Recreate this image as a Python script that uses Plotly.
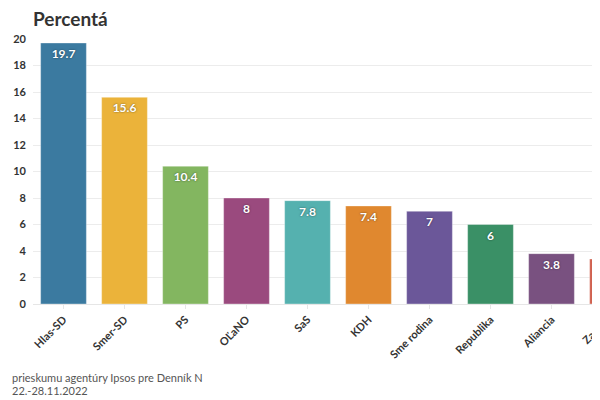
import plotly.graph_objects as go

parties = ["Hlas-SD", "Smer-SD", "PS", "OĽaNO", "SaS", "KDH", "Sme rodina", "Republika", "Aliancia", "Za ľudí"]
values = [19.7, 15.6, 10.4, 8, 7.8, 7.4, 7, 6, 3.8, 3.4]
colors = ["#3B7AA0", "#EBB33A", "#83B660", "#9A4A7E", "#55B1AF", "#E0882F", "#6B5799", "#3A9066", "#795180", "#D0614F"]
y_ticks = [0, 2, 4, 6, 8, 10, 12, 14, 16, 18, 20]

FONT = "Lato"
OFF = 8  # page body margin
W, H = 600, 400
L, T = 33 - OFF, 39 - OFF
PB = 304 - OFF  # plot bottom in figure px
B = H - PB
PW, PH = W - L, PB - T
UNIT = 61.0
x_hi = -0.5 + PW / UNIT


def px(screen_x):
    return (screen_x - OFF - L) / PW


def py(screen_y):
    return (PB - (screen_y - OFF)) / PH


fig = go.Figure()
fig.add_trace(go.Bar(
    x=list(range(len(parties))),
    y=values,
    width=0.75,
    marker=dict(color=colors, line=dict(color="rgba(255,255,255,0.35)", width=1)),
    text=[f"{v:g}" for v in values],
    textposition="inside",
    insidetextanchor="end",
    textangle=0,
    textfont=dict(family=FONT, size=12, color="white", weight="bold",
                  shadow="0px 0px 2px rgba(0,0,0,0.55)"),
    hoverinfo="x+y",
))

# category label for the last (partly hidden) bar, which sits past the visible range
last_x_screen = 33 + (len(parties) - 1 + 0.5) * UNIT
fig.add_annotation(
    x=px(last_x_screen + 3), y=0, xref="paper", yref="paper",
    text=parties[-1], showarrow=False, textangle=-45,
    xanchor="right", yanchor="top", yshift=-6,
    font=dict(family=FONT, size=11, color="#333333", weight="bold"),
)

fig.update_layout(
    width=W, height=H,
    margin=dict(l=L, r=0, t=T, b=B, autoexpand=False),
    paper_bgcolor="white", plot_bgcolor="white",
    showlegend=False,
    bargap=0.25,
    title=dict(text="<b>Percentá</b>", x=(33 - OFF) / W, xanchor="left",
               y=1 - (19 - OFF) / H, yanchor="middle",
               font=dict(family=FONT, size=19, color="#333333")),
    xaxis=dict(
        range=[-0.5, x_hi],
        automargin=False,
        tickmode="array",
        tickvals=list(range(len(parties))),
        ticktext=parties,
        tickangle=-45,
        tickfont=dict(family=FONT, size=11, color="#333333", weight="bold"),
        showgrid=False, zeroline=False,
        showline=True, linecolor="#e6e6e6", linewidth=1,
        ticks="outside", ticklen=4, tickcolor="#e6e6e6",
    ),
    yaxis=dict(
        range=[0, 20],
        automargin=False,
        tickmode="array",
        tickvals=y_ticks,
        tickfont=dict(family=FONT, size=11, color="#333333", weight="bold"),
        showgrid=True, gridcolor="#ececec", gridwidth=1,
        zeroline=False,
        ticks="", ticklabelstandoff=6,
    ),
)

fig.add_annotation(
    x=px(10), y=py(377), xref="paper", yref="paper", xanchor="left", yanchor="middle",
    text="prieskumu agentúry Ipsos pre Denník N", showarrow=False,
    font=dict(family=FONT, size=11, color="#555555"),
)
fig.add_annotation(
    x=px(10), y=py(390), xref="paper", yref="paper", xanchor="left", yanchor="middle",
    text="22.-28.11.2022", showarrow=False,
    font=dict(family=FONT, size=11, color="#555555"),
)

fig.write_html("out.html")
